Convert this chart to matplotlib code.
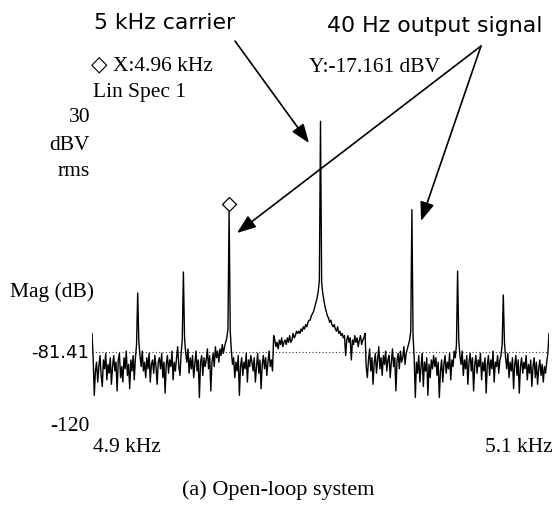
import numpy as np
import matplotlib
matplotlib.use("Agg")
from matplotlib import pyplot as plt
from matplotlib.transforms import ScaledTranslation

# linear spectrum, 4.9 kHz .. 5.1 kHz span, 0.5 Hz bins (401 points)
span_khz = (4.9, 5.1)
scale_dbv = (-120, 30)
ref_level = -81.41

floor_dbv = [
    -73, -84, -101, -90, -86, -95, -88, -83, -92, -97, -85, -89, -82, -94, -87, -91, -84, -96, -88, -83,
    -90, -86, -99, -85, -82, -93, -88, -95, -84, -89, -81, -92, -87, -98, -85, -90, -83, -94, -84, -78,
    -70, -77, -83, -88, -81, -90, -86, -93, -84, -89, -82, -95, -87, -85, -91, -83, -88, -96, -86, -84,
    -89, -82, -93, -86, -100, -87, -83, -91, -85, -88, -81, -94, -86, -90, -84, -79, -88, -92, -82, -76,
    -70, -75, -82, -86, -80, -91, -84, -89, -83, -93, -87, -81, -90, -85, -102, -86, -83, -92, -84, -88,
    -85, -80, -89, -83, -99, -86, -82, -88, -79, -84, -81, -86, -80, -83, -78, -82, -79, -77, -75, -71,
    -70, -72, -81, -87, -84, -93, -86, -90, -83, -101, -88, -84, -92, -86, -89, -82, -95, -85, -88, -83,
    -86, -90, -84, -95, -88, -82, -91, -85, -98, -87, -83, -89, -84, -92, -86, -81, -88, -85, -90, -74,
    -76, -79, -77, -80, -76, -78, -75, -79, -77, -76, -78, -75, -77, -74, -77, -76, -73, -75, -74, -72,
    -73, -72, -73, -71, -72, -70, -71, -69, -70, -68, -67, -67, -65, -64, -63, -61, -59, -57, -54, -49,
    -45, -50, -55, -58, -61, -63, -65, -66, -68, -67, -69, -70, -69, -71, -72, -70, -73, -72, -74, -73,
    -75, -74, -83, -76, -74, -77, -75, -85, -76, -78, -74, -77, -75, -79, -76, -74, -78, -76, -75, -73,
    -88, -93, -85, -80, -90, -84, -96, -86, -82, -91, -85, -79, -89, -84, -92, -83, -87, -81, -90, -85,
    -83, -93, -86, -80, -88, -84, -99, -85, -82, -89, -81, -86, -84, -79, -87, -82, -80, -78, -76, -72,
    -70, -74, -84, -102, -86, -91, -83, -95, -88, -82, -97, -86, -90, -84, -101, -87, -93, -85, -89, -83,
    -88, -84, -92, -86, -102, -90, -85, -95, -87, -83, -91, -86, -89, -82, -94, -85, -88, -81, -84, -78,
    -70, -76, -83, -87, -81, -92, -85, -89, -83, -96, -86, -82, -90, -84, -99, -87, -83, -91, -85, -88,
    -82, -94, -86, -90, -84, -100, -87, -83, -92, -85, -89, -81, -95, -86, -88, -83, -91, -85, -83, -78,
    -70, -77, -84, -89, -82, -93, -86, -90, -84, -98, -87, -83, -92, -85, -100, -88, -84, -91, -86, -89,
    -83, -94, -87, -91, -85, -97, -88, -84, -93, -86, -96, -89, -85, -92, -87, -95, -88, -91, -86, -82,
    -73,
]

# carrier and the 40 Hz sidebands
peak_khz = [4.92, 4.94, 4.96, 5.00, 5.04, 5.06, 5.08]
peak_dbv = [-54.7, -45.2, -17.161, 23.0, -17.0, -44.8, -55.6]

marker_khz = 4.96
marker_dbv = -17.161

W, H = 556, 510

freq_khz = np.linspace(span_khz[0], span_khz[1], len(floor_dbv))
level = np.array(floor_dbv, dtype=float)
for f, v in zip(peak_khz, peak_dbv):
    level[np.argmin(np.abs(freq_khz - f))] = v

fig = plt.figure(figsize=(W / 100, H / 100), dpi=100)
ax = fig.add_axes([92 / W, 1 - 438.3 / H, (549 - 92) / W, 331.5 / H])
ax.set_xlim(*span_khz)
ax.set_ylim(*scale_dbv)
ax.axis("off")

ax.plot(span_khz, [ref_level, ref_level], color="#333333", lw=0.8, linestyle=(0, (1, 2)))
ax.plot(freq_khz, level, color="black", lw=1.0)

lift = ScaledTranslation(0, 6 / 100, fig.dpi_scale_trans)
ax.plot([marker_khz], [marker_dbv], marker="D", ms=7.5, mfc="white", mec="black",
        mew=0.9, transform=ax.transData + lift, clip_on=False)

serif = ["Liberation Serif", "DejaVu Sans"]
sans = ["DejaVu Sans"]


def put(x, y, s, fam=serif, size=15.5, ha="left"):
    fig.text(x / W, 1 - y / H, s, family=fam, fontsize=size, ha=ha, va="center")


put(94, 23, "5 kHz carrier", fam=sans, size=15.8)
put(327, 26, "40 Hz output signal", fam=sans, size=15.8)
put(91, 66, "\u25c7 X:%.2f kHz" % marker_khz)
put(309, 68, "Y:%.3f dBV" % marker_dbv)
put(93, 92, "Lin Spec 1")
put(90, 118, "%d" % scale_dbv[1], ha="right")
put(90, 146, "dBV", ha="right")
put(90, 172, "rms", ha="right")
put(10, 292, "Mag (dB)")
put(89, 353, "%.2f" % ref_level, fam=sans, size=13, ha="right")
put(90, 427, "%d" % scale_dbv[0], ha="right")
put(93, 448, "%.1f kHz" % span_khz[0])
put(553, 448, "%.1f kHz" % span_khz[1], ha="right")
put(278, 490, "(a) Open-loop system", size=16, ha="center")

arrow = dict(arrowstyle="-|>,head_length=1.15,head_width=0.43", mutation_scale=10,
             color="black", lw=1.2, shrinkA=0, shrinkB=0)


def pointer(start, tip):
    ax.annotate("", xy=(tip[0], H - tip[1]), xytext=(start[0], H - start[1]),
                xycoords="figure pixels", textcoords="figure pixels", arrowprops=arrow)


pointer((235, 42), (309, 144))
pointer((481, 47), (237, 234))
pointer((481, 47), (421, 222))

fig.savefig("out.png", dpi=100)
